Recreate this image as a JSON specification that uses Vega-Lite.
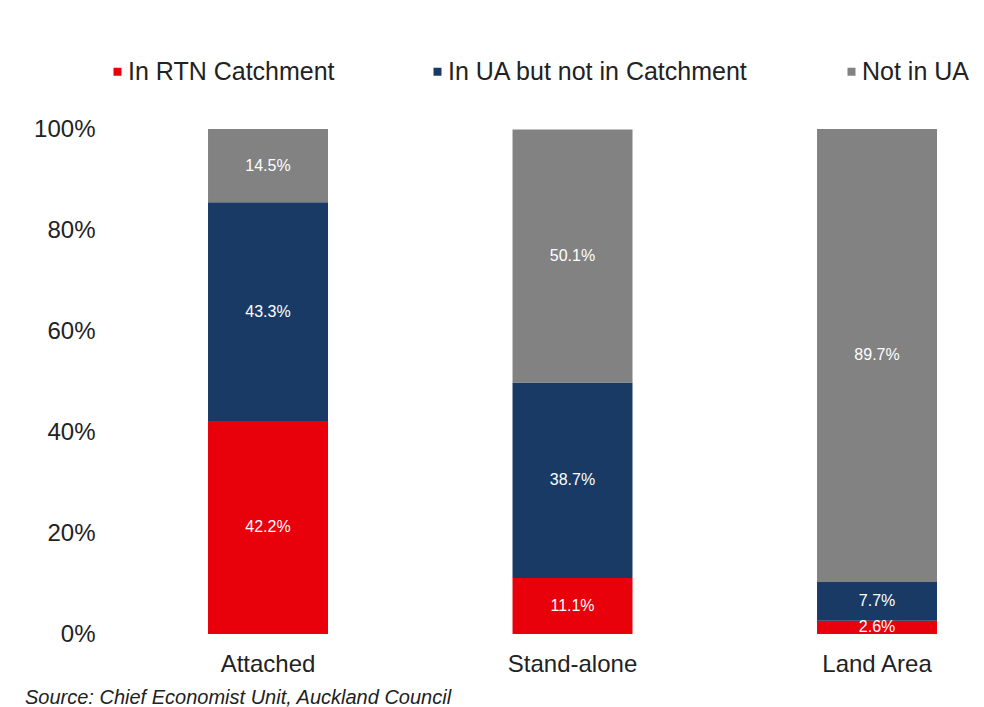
{
  "$schema": "https://vega.github.io/schema/vega-lite/v6.json",
  "autosize": {"type": "none"},
  "width": 864,
  "height": 505,
  "padding": {"left": 110, "top": 129, "right": 10, "bottom": 73},
  "background": "white",
  "config": {
    "font": "Liberation Sans",
    "view": {"stroke": null}
  },
  "title": {
    "text": "Source: Chief Economist Unit, Auckland Council",
    "orient": "bottom",
    "anchor": "start",
    "frame": "group",
    "dx": -85,
    "offset": 12,
    "fontSize": 20,
    "fontStyle": "italic",
    "fontWeight": "normal",
    "color": "#222222",
    "font": "Liberation Sans"
  },
  "data": {
    "values": [
      {"category": "Attached", "series": "In RTN Catchment", "value": 0.422},
      {"category": "Attached", "series": "In UA but not in Catchment", "value": 0.433},
      {"category": "Attached", "series": "Not in UA", "value": 0.145},
      {"category": "Stand-alone", "series": "In RTN Catchment", "value": 0.111},
      {"category": "Stand-alone", "series": "In UA but not in Catchment", "value": 0.387},
      {"category": "Stand-alone", "series": "Not in UA", "value": 0.501},
      {"category": "Land Area", "series": "In RTN Catchment", "value": 0.026},
      {"category": "Land Area", "series": "In UA but not in Catchment", "value": 0.077},
      {"category": "Land Area", "series": "Not in UA", "value": 0.897}
    ]
  },
  "encoding": {
    "x": {
      "field": "category",
      "type": "nominal",
      "sort": ["Attached", "Stand-alone", "Land Area"],
      "scale": {"paddingInner": 0.606, "paddingOuter": 0.2217, "align": 0.726},
      "axis": {
        "title": null,
        "labelAngle": 0,
        "labelFontSize": 24,
        "labelColor": "#222222",
        "labelPadding": 18,
        "ticks": false,
        "domain": false,
        "grid": false
      }
    },
    "y": {
      "field": "value",
      "type": "quantitative",
      "stack": "zero",
      "scale": {"domain": [0, 1], "nice": false},
      "axis": {
        "title": null,
        "format": ".0%",
        "values": [0, 0.2, 0.4, 0.6, 0.8, 1],
        "labelFontSize": 24,
        "labelColor": "#222222",
        "labelPadding": 15,
        "ticks": false,
        "domain": false,
        "grid": false
      }
    },
    "order": {"field": "series", "type": "nominal", "sort": "ascending"}
  },
  "layer": [
    {
      "mark": {"type": "bar"},
      "encoding": {
        "color": {
          "field": "series",
          "type": "nominal",
          "scale": {
            "domain": ["In RTN Catchment", "In UA but not in Catchment", "Not in UA"],
            "range": ["#e8000b", "#1a3a66", "#828282"]
          },
          "legend": {
            "title": null,
            "orient": "none",
            "legendX": -5,
            "legendY": -70,
            "direction": "horizontal",
            "symbolType": "square",
            "symbolSize": 64,
            "symbolStrokeWidth": 0,
            "labelFontSize": 25,
            "labelColor": "#222222",
            "labelOffset": -2,
            "labelLimit": 400,
            "columnPadding": 90
          }
        }
      }
    },
    {
      "mark": {"type": "text", "color": "white", "fontSize": 16, "baseline": "middle"},
      "encoding": {
        "y": {"field": "value", "type": "quantitative", "stack": "zero", "bandPosition": 0.5},
        "detail": {"field": "series", "type": "nominal"},
        "text": {"field": "value", "type": "quantitative", "format": ".1%"}
      }
    }
  ]
}
